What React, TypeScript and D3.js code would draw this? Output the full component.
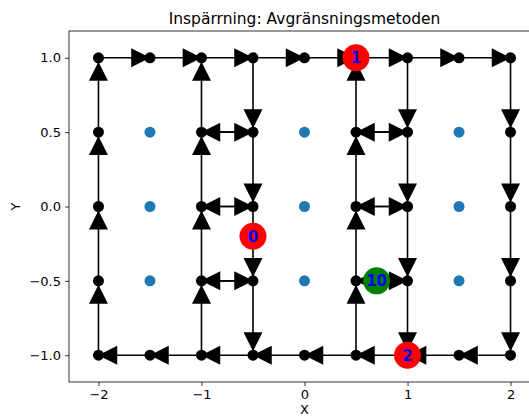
import React, { useEffect, useRef } from 'react';
import * as d3 from 'd3';

// edges of the boundary graph: [x1, y1, x2, y2], arrow drawn near the end point
const edges: number[][] = [
  // top row, going right
  [-2, 1, -1.5, 1], [-1.5, 1, -1, 1], [-1, 1, -0.5, 1], [-0.5, 1, 0, 1],
  [0, 1, 0.5, 1], [0.5, 1, 1, 1], [1, 1, 1.5, 1], [1.5, 1, 2, 1],
  // right column, going down
  [2, 1, 2, 0.5], [2, 0.5, 2, 0], [2, 0, 2, -0.5], [2, -0.5, 2, -1],
  // bottom row, going left
  [2, -1, 1.5, -1], [1.5, -1, 1, -1], [1, -1, 0.5, -1], [0.5, -1, 0, -1],
  [0, -1, -0.5, -1], [-0.5, -1, -1, -1], [-1, -1, -1.5, -1], [-1.5, -1, -2, -1],
  // left column, going up
  [-2, -1, -2, -0.5], [-2, -0.5, -2, 0], [-2, 0, -2, 0.5], [-2, 0.5, -2, 1],
  // cut at x=-1 (up) and x=-0.5 (down)
  [-1, -1, -1, -0.5], [-1, -0.5, -1, 0], [-1, 0, -1, 0.5], [-1, 0.5, -1, 1],
  [-0.5, 1, -0.5, 0.5], [-0.5, 0.5, -0.5, 0], [-0.5, 0, -0.5, -0.5], [-0.5, -0.5, -0.5, -1],
  [-1, 0.5, -0.5, 0.5], [-0.5, 0.5, -1, 0.5],
  [-1, 0, -0.5, 0], [-0.5, 0, -1, 0],
  [-1, -0.5, -0.5, -0.5], [-0.5, -0.5, -1, -0.5],
  // cut at x=0.5 (up) and x=1 (down)
  [0.5, -1, 0.5, -0.5], [0.5, -0.5, 0.5, 0], [0.5, 0, 0.5, 0.5], [0.5, 0.5, 0.5, 1],
  [1, 1, 1, 0.5], [1, 0.5, 1, 0], [1, 0, 1, -0.5], [1, -0.5, 1, -1],
  [0.5, 0.5, 1, 0.5], [1, 0.5, 0.5, 0.5],
  [0.5, 0, 1, 0], [1, 0, 0.5, 0],
  [0.5, -0.5, 1, -0.5], [1, -0.5, 0.5, -0.5],
];

// interior points not on any edge
const freeX = [-1.5, 0, 1.5];
const freeY = [0.5, 0, -0.5];

// labelled markers
const labels = [
  { x: -0.5, y: -0.2, text: '0', color: 'red' },
  { x: 0.5, y: 1, text: '1', color: 'red' },
  { x: 1, y: -1, text: '2', color: 'red' },
  { x: 0.7, y: -0.5, text: '10', color: 'green' },
];

const xTicks = [-2, -1, 0, 1, 2];
const yTicks = [1, 0.5, 0, -0.5, -1];

const W = 529, H = 418;

export default function App() {
  const ref = useRef<SVGSVGElement>(null);

  useEffect(() => {
    const svg = d3.select(ref.current);
    svg.selectAll('*').remove();

    const x = d3.scaleLinear().domain([-2.286, 2.286]).range([69, 540]);
    const y = d3.scaleLinear().domain([-1.18, 1.18]).range([382, 31]);
    const font = 'DejaVu Sans, sans-serif';
    const minus = (s: string) => s.replace('-', '\u2212');

    // title
    svg.append('text')
      .attr('x', x(0)).attr('y', 24)
      .attr('text-anchor', 'middle')
      .style('font-family', font).style('font-size', '15.5px')
      .text('Inspärrning: Avgränsningsmetoden');

    const g = svg.append('g');

    // edge lines
    g.selectAll('line.edge').data(edges).enter().append('line')
      .attr('x1', d => x(d[0])).attr('y1', d => y(d[1]))
      .attr('x2', d => x(d[2])).attr('y2', d => y(d[3]))
      .attr('stroke', '#000').attr('stroke-width', 1.6);

    // arrow heads (matplotlib style triangle, width = height), a bit before the end point
    const s = 9.5;
    const tri = `M0,${-s}L${s},${s}L${-s},${s}Z`;
    g.selectAll('path.head').data(edges).enter().append('path')
      .attr('d', tri)
      .attr('transform', d => {
        const dx = Math.sign(d[2] - d[0]), dy = Math.sign(d[3] - d[1]);
        const px = x(d[2] - 0.09 * dx), py = y(d[3] - 0.09 * dy);
        const ang = dx > 0 ? 90 : dx < 0 ? -90 : dy > 0 ? 0 : 180;
        return `translate(${px},${py}) rotate(${ang})`;
      })
      .attr('fill', '#000');

    // nodes
    const nodes = Array.from(new Set(edges.flatMap(d => [`${d[0]},${d[1]}`, `${d[2]},${d[3]}`])))
      .map(t => t.split(',').map(Number));
    g.selectAll('circle.node').data(nodes).enter().append('circle')
      .attr('cx', d => x(d[0])).attr('cy', d => y(d[1])).attr('r', 5.5)
      .attr('fill', '#000');

    const free = freeX.flatMap(a => freeY.map(b => [a, b]));
    g.selectAll('circle.free').data(free).enter().append('circle')
      .attr('cx', d => x(d[0])).attr('cy', d => y(d[1])).attr('r', 5.5)
      .attr('fill', '#1f77b4');

    const lab = g.selectAll('g.lab').data(labels).enter().append('g')
      .attr('transform', d => `translate(${x(d.x)},${y(d.y)})`);
    lab.append('circle').attr('r', 13.5).attr('fill', d => d.color);
    lab.append('text')
      .attr('text-anchor', 'middle').attr('y', 5.5)
      .style('font-family', font).style('font-size', '15px').style('font-weight', 'bold')
      .attr('fill', 'blue')
      .text(d => d.text);

    // frame
    svg.append('rect')
      .attr('x', 69).attr('y', 31).attr('width', 540 - 69).attr('height', 382 - 31)
      .attr('fill', 'none').attr('stroke', '#000').attr('stroke-width', 0.8);

    // axes
    const xAxis = svg.append('g').attr('transform', 'translate(0,382)')
      .call(d3.axisBottom(x).tickValues(xTicks).tickSize(4).tickPadding(4)
        .tickFormat(d => minus(d3.format('d')(d as number))));
    const yAxis = svg.append('g').attr('transform', 'translate(69,0)')
      .call(d3.axisLeft(y).tickValues(yTicks).tickSize(4).tickPadding(4)
        .tickFormat(d => minus(d3.format('.1f')(d as number))));
    [xAxis, yAxis].forEach(a => {
      a.select('.domain').remove();
      a.selectAll('line').attr('stroke', '#000').attr('stroke-width', 0.8);
      a.selectAll('text').style('font-family', font).style('font-size', '13px').attr('fill', '#000');
    });

    svg.append('text')
      .attr('x', x(0)).attr('y', 414)
      .attr('text-anchor', 'middle')
      .style('font-family', font).style('font-size', '13px')
      .text('X');
    svg.append('text')
      .attr('transform', `translate(20,${y(0)}) rotate(-90)`)
      .attr('text-anchor', 'middle')
      .style('font-family', font).style('font-size', '13px')
      .text('Y');
  }, []);

  return (
    <div style={{ position: 'absolute', left: 0, top: 0 }}>
      <svg ref={ref} width={W} height={H} style={{ display: 'block', background: '#fff' }} />
    </div>
  );
}
